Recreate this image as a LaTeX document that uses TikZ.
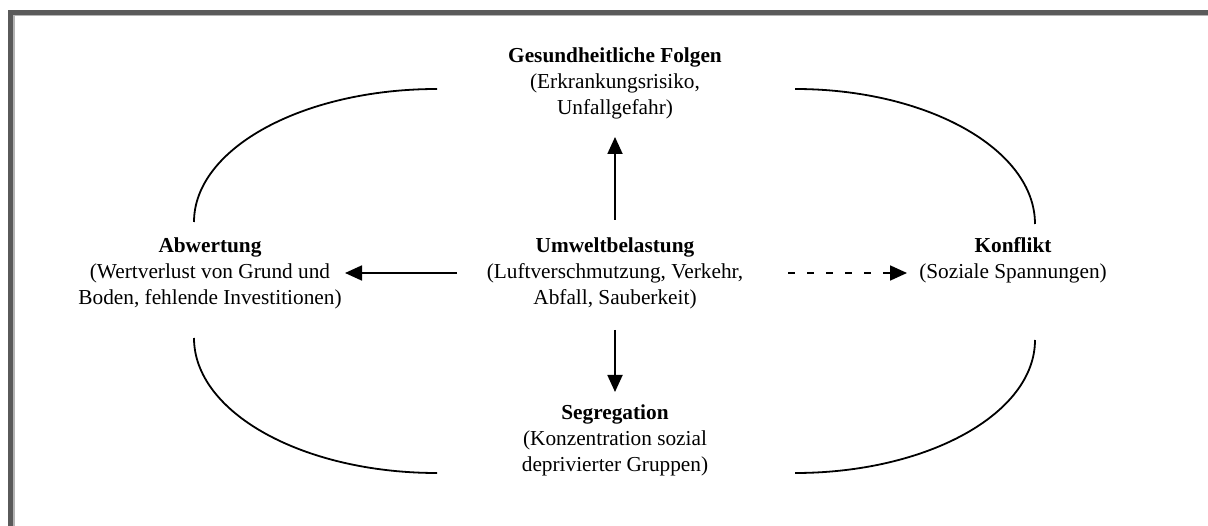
\documentclass[tikz,border=0pt]{standalone}
\usepackage{fontspec}
\setmainfont{Liberation Serif}
\usetikzlibrary{arrows.meta}
\definecolor{frameDark}{HTML}{5A5A5A}
\definecolor{frameLight}{HTML}{B4B4B4}
\begin{document}
\begin{tikzpicture}[x=1pt,y=-1pt,
  txt/.style={align=center, inner sep=0pt, font=\fontsize{21.3}{26}\selectfont},
  arr/.style={line width=1.8pt, -{Triangle[length=17pt,width=15pt]}},
  dasharr/.style={arr, dash pattern=on 7pt off 12pt},
  ring/.style={line width=1.8pt}]
\useasboundingbox (0,0) rectangle (1208,526);
\fill[white] (0,0) rectangle (1208,526);
% frame (top and left edges)
\fill[frameDark] (8,10) rectangle (1208,15);
\fill[frameDark] (8,10) rectangle (13,526);
\fill[frameLight] (13,15) rectangle (1208,16.5);
\fill[frameLight] (13,15) rectangle (14.5,526);

% text nodes
\node[txt] (gesund) at (615,83) {\textbf{Gesundheitliche Folgen}\\(Erkrankungsrisiko,\\Unfallgefahr)};
\node[txt] (abwert) at (210,273) {\textbf{Abwertung}\\(Wertverlust von Grund und\\Boden, fehlende Investitionen)};
\node[txt] (umwelt) at (615,273) {\textbf{Umweltbelastung}\\(Luftverschmutzung, Verkehr,\\Abfall, Sauberkeit)};
\node[txt] (konflikt) at (1013,260) {\textbf{Konflikt}\\(Soziale Spannungen)};
\node[txt] (segreg) at (615,440) {\textbf{Segregation}\\(Konzentration sozial\\deprivierter Gruppen)};

% arrows (measured from node centres)
\draw[arr, shorten <=53pt, shorten >=54pt] (umwelt.center) -- (umwelt.center |- gesund.center);
\draw[arr, shorten <=57pt, shorten >=48pt] (umwelt.center) -- (umwelt.center |- segreg.center);
\draw[arr, shorten <=158pt, shorten >=135pt] (umwelt.center) -- (umwelt.center -| abwert.center);
\draw[dasharr, shorten <=173pt, shorten >=106pt] (umwelt.center) -- (umwelt.center -| konflikt.center);

% ring arcs
\coordinate (tlA) at (437,89);
\coordinate (tlB) at (194,222);
\coordinate (trA) at (795,89);
\coordinate (trB) at (1035,224);
\coordinate (blA) at (194,338);
\coordinate (blB) at (437,473);
\coordinate (brA) at (1035,340);
\coordinate (brB) at (795,473);
\draw[ring] (tlA) .. controls (302.8,89) and (194,148.5) .. (tlB);
\draw[ring] (trA) .. controls (927.5,89) and (1035,149.4) .. (trB);
\draw[ring] (blA) .. controls (194,412.6) and (302.8,473) .. (blB);
\draw[ring] (brA) .. controls (1035,413.5) and (927.5,473) .. (brB);
\end{tikzpicture}
\end{document}
